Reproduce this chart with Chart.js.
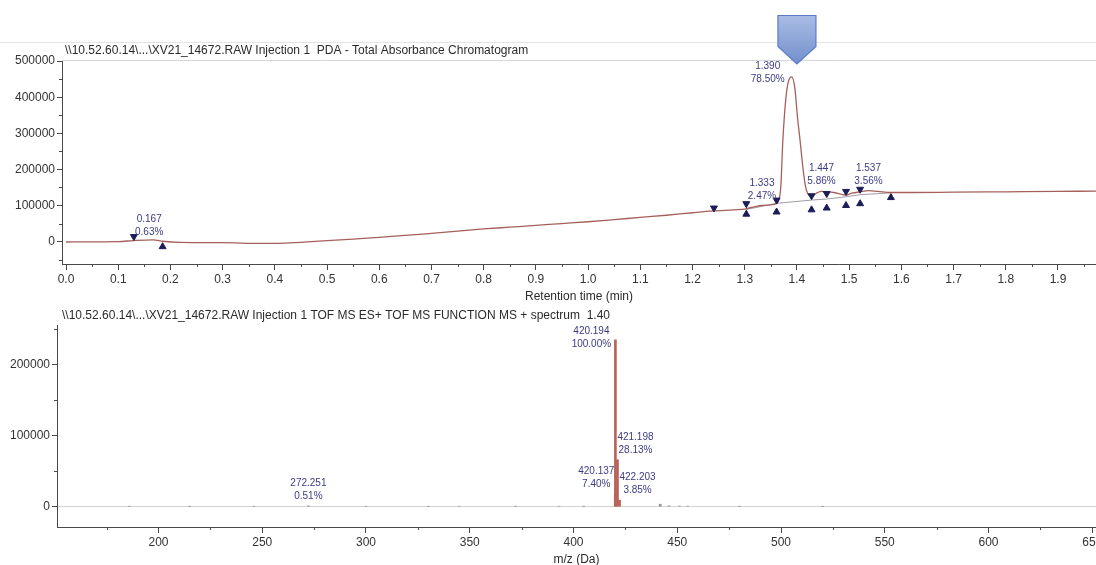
<!DOCTYPE html>
<html><head><meta charset="utf-8">
<script src="https://cdn.jsdelivr.net/npm/chart.js@4.4.0/dist/chart.umd.min.js"></script>
<style>
html,body{margin:0;padding:0;background:#fff;overflow:hidden;}
#wrap{position:relative;width:1096px;height:565px;overflow:hidden;background:#fff;}
.box{position:absolute;left:0;width:1120px;}
</style></head><body>
<div id="wrap">
  <div class="box" style="top:0;height:305px"><canvas id="c1" width="1120" height="305"></canvas></div>
  <div class="box" style="top:305px;height:260px"><canvas id="c2" width="1120" height="260"></canvas></div>
</div>
<script>
// ---------- DATA ----------
const chromTitle = "\\\\10.52.60.14\\...\\XV21_14672.RAW Injection 1  PDA - Total Absorbance Chromatogram";
const specTitle = "\\\\10.52.60.14\\...\\XV21_14672.RAW Injection 1 TOF MS ES+ TOF MS FUNCTION MS + spectrum  1.40";
const chromXTitle = "Retention time (min)";
const specXTitle = "m/z (Da)";

const rtTimes = [0.00,0.05,0.10,0.13,0.167,0.185,0.22,0.30,0.38,0.42,0.47,0.50,0.55,0.60,0.65,0.70,0.75,0.80,0.85,0.90,0.95,1.00,1.05,1.10,1.15,1.20,1.24,1.28,1.30,1.32,1.333,1.35,1.36,1.365,1.369,1.373,1.379,1.384,1.390,1.396,1.401,1.406,1.411,1.416,1.421,1.428,1.437,1.447,1.457,1.470,1.485,1.494,1.505,1.521,1.537,1.555,1.58,1.62,1.70,1.80,1.90,1.973];
const rtAbs   = [-1000,-500,0,3000,5000,1000,-2000,-3000,-5000,-4000,0,3000,7000,12000,17000,23000,29000,35000,40000,45000,50000,55000,61000,67000,73000,80000,85000,88000,90000,97000,100000,102000,105000,115000,150000,280000,400000,445000,456000,425000,345000,280000,210000,156000,132000,126000,134000,139000,138000,136000,131000,129000,134000,138000,141000,139000,136000,136000,137000,138000,139000,140000];

const baseRT  = [1.303,1.361,1.428,1.457,1.494,1.521,1.58];
const baseAbs = [89000,106000,115000,118000,124000,130000,135000];

const downRT  = [0.13,1.241,1.303,1.361,1.428,1.457,1.494,1.521];
const downAbs = [14000,93000,105000,115000,127000,133000,139000,145000];
const upRT    = [0.185,1.303,1.361,1.428,1.457,1.494,1.521,1.58];
const upAbs   = [-14000,76000,82000,88000,93000,100000,105000,122000];

const peakRT     = [0.167,1.333,1.390,1.447,1.537];
const peakHeight = [5000,100000,456000,139000,141000];
const peakArea   = ["0.63%","2.47%","78.50%","5.86%","3.56%"];

const chromXTicks = [0.0,0.1,0.2,0.3,0.4,0.5,0.6,0.7,0.8,0.9,1.0,1.1,1.2,1.3,1.4,1.5,1.6,1.7,1.8,1.9];
const chromYTicks = [0,100000,200000,300000,400000,500000];

const mzValues = [186,215,246,272.251,300,330,345,372,393,405,420.137,420.194,421.198,422.203,441.8,446,451,455,480,520];
const mzInt    = [500,400,500,1200,600,400,700,500,600,400,17400,235000,66100,9050,3500,1200,900,800,400,300];

const specLabelMz  = [420.194,421.198,420.137,422.203,272.251];
const specLabelPct = ["100.00%","28.13%","7.40%","3.85%","0.51%"];

const specXTicks = [200,250,300,350,400,450,500,550,600,650];
const specYTicks = [0,100000,200000];

const spectrumTime = 1.40;

// ---------- STYLE ----------
const AXIS = '#4a4a4a', TXT = '#333333', LBL = '#3b3b85', MARK = '#1c1c58';
const TRACE = '#a5605a', STICK = '#b8635a', NOISE = '#9a9090';
const FONT = 'Liberation Sans, Arial, sans-serif';
const chromLabelOff = [[-4,-21],[0,-22],[-24,-11],[0,-23],[0,-22]];
const specLabelOff  = [[-24,-9],[18,-23],[-19,-23],[18,-23],[0,-23]];

function pts(xs, ys){ return xs.map((x,i)=>({x:x, y:ys[i]})); }

function minorTicks(ctx, chart, xs, ys){
  const xa = chart.scales.x, ya = chart.scales.y, a = chart.chartArea;
  ctx.save(); ctx.strokeStyle = AXIS; ctx.lineWidth = 1;
  xs.forEach(v=>{ if(v<xa.min||v>xa.max) return; const p = Math.round(xa.getPixelForValue(v))+0.5;
    ctx.beginPath(); ctx.moveTo(p,a.bottom); ctx.lineTo(p,a.bottom+3); ctx.stroke(); });
  ys.forEach(v=>{ if(v<ya.min||v>ya.max) return; const p = Math.round(ya.getPixelForValue(v))+0.5;
    ctx.beginPath(); ctx.moveTo(a.left-3,p); ctx.lineTo(a.left,p); ctx.stroke(); });
  ctx.restore();
}

// ---------- CHART 1 ----------
const chromPlugin = {
  id:'chromDeco',
  afterDraw(chart){
    const ctx = chart.ctx, a = chart.chartArea, xs = chart.scales.x, ys = chart.scales.y;
    ctx.save();
    ctx.strokeStyle = '#e4e4e4'; ctx.lineWidth = 1;
    ctx.beginPath(); ctx.moveTo(0,42.5); ctx.lineTo(1120,42.5); ctx.stroke();
    ctx.strokeStyle = '#d6d6d6';
    ctx.beginPath(); ctx.moveTo(a.left,a.top+0.5); ctx.lineTo(a.right,a.top+0.5); ctx.stroke();
    ctx.fillStyle = '#2b2b2b'; ctx.font = '12px '+FONT; ctx.textBaseline='middle'; ctx.textAlign='left';
    ctx.fillText(chromTitle, 65, 51);
    ctx.textAlign='center';
    ctx.fillText(chromXTitle, (a.left+a.right)/2, 297);
    ctx.fillStyle = LBL; ctx.font = '10px '+FONT;
    peakRT.forEach((t,i)=>{
      const px = xs.getPixelForValue(t)+chromLabelOff[i][0];
      const py = ys.getPixelForValue(peakHeight[i])+chromLabelOff[i][1];
      ctx.fillText(t.toFixed(3), px, py);
      ctx.fillText(peakArea[i], px, py+13);
    });
    ctx.restore();
    minorTicks(ctx, chart, chromXTicks.map(v=>v+0.05), [-50000,50000,150000,250000,350000,450000]);
    const cx = xs.getPixelForValue(spectrumTime);
    ctx.save();
    const g = ctx.createLinearGradient(0,15,0,64);
    g.addColorStop(0,'#a9bce4'); g.addColorStop(1,'#7390cd');
    ctx.fillStyle = g; ctx.strokeStyle = '#5b7cc4'; ctx.lineWidth = 1.2;
    ctx.beginPath();
    ctx.moveTo(cx-19,15.5); ctx.lineTo(cx+19,15.5); ctx.lineTo(cx+19,46.5);
    ctx.lineTo(cx,64); ctx.lineTo(cx-19,46.5); ctx.closePath();
    ctx.fill(); ctx.stroke();
    ctx.restore();
  }
};

new Chart(document.getElementById('c1'), {
  type:'scatter',
  data:{ datasets:[
    {data:pts(rtTimes,rtAbs), showLine:true, borderColor:TRACE, borderWidth:1.3, pointRadius:0, cubicInterpolationMode:'monotone', order:2},
    {data:pts(baseRT,baseAbs), showLine:true, borderColor:'#a39aa6', borderWidth:1, pointRadius:0, order:3},
    {data:pts(downRT,downAbs), showLine:false, pointStyle:'triangle', rotation:180, pointRadius:4, backgroundColor:MARK, borderColor:MARK, borderWidth:1, order:1},
    {data:pts(upRT,upAbs), showLine:false, pointStyle:'triangle', pointRadius:4, backgroundColor:MARK, borderColor:MARK, borderWidth:1, order:1}
  ]},
  options:{
    responsive:false, animation:false, devicePixelRatio:1,
    layout:{padding:{top:60,right:24,left:0,bottom:0}},
    plugins:{legend:{display:false}, tooltip:{enabled:false}, title:{display:false}},
    scales:{
      x:{type:'linear', min:-0.0077, max:1.9728,
        afterBuildTicks:s=>{s.ticks = chromXTicks.map(v=>({value:v}));},
        afterFit:s=>{s.height=41;},
        grid:{drawOnChartArea:false, tickLength:6, color:AXIS},
        border:{color:AXIS},
        ticks:{color:TXT, font:{size:12,family:FONT}, padding:2, maxRotation:0, autoSkip:false, callback:v=>Number(v).toFixed(1)}},
      y:{type:'linear', min:-62000, max:503000,
        afterBuildTicks:s=>{s.ticks = chromYTicks.map(v=>({value:v}));},
        afterFit:s=>{s.width=62;},
        grid:{drawOnChartArea:false, tickLength:5, color:AXIS},
        border:{color:AXIS},
        ticks:{color:TXT, font:{size:12,family:FONT}, padding:2, autoSkip:false, callback:v=>String(v)}}
    }
  },
  plugins:[chromPlugin]
});

// ---------- CHART 2 ----------
const specPlugin = {
  id:'specDeco',
  afterDraw(chart){
    const ctx = chart.ctx, a = chart.chartArea, xs = chart.scales.x, ys = chart.scales.y;
    ctx.save();
    ctx.fillStyle = '#2b2b2b'; ctx.font = '12px '+FONT; ctx.textBaseline='middle'; ctx.textAlign='left';
    ctx.fillText(specTitle, 62, 11);
    ctx.textAlign='center';
    ctx.fillText(specXTitle, (a.left+a.right)/2, 255);
    ctx.fillStyle = LBL; ctx.font = '10px '+FONT;
    specLabelMz.forEach((m,i)=>{
      const h = mzInt[mzValues.indexOf(m)];
      const px = xs.getPixelForValue(m)+specLabelOff[i][0];
      const py = ys.getPixelForValue(h)+specLabelOff[i][1];
      ctx.fillText(m.toFixed(3), px, py);
      ctx.fillText(specLabelPct[i], px, py+13);
    });
    ctx.restore();
    minorTicks(ctx, chart, [175,225,275,325,375,425,475,525,575,625], [50000,150000,250000]);
  }
};

new Chart(document.getElementById('c2'), {
  type:'bar',
  data:{ datasets:[
    {data:pts(mzValues,mzInt), backgroundColor:c=>(c.raw && c.raw.y < 5000) ? NOISE : STICK, borderWidth:0, barThickness:2}
  ]},
  options:{
    responsive:false, animation:false, devicePixelRatio:1,
    layout:{padding:{top:20,right:24,left:0,bottom:0}},
    plugins:{legend:{display:false}, tooltip:{enabled:false}, title:{display:false}},
    scales:{
      x:{type:'linear', min:151.1, max:651.8, offset:false,
        afterBuildTicks:s=>{s.ticks = specXTicks.map(v=>({value:v}));},
        afterFit:s=>{s.height=38;},
        grid:{drawOnChartArea:false, tickLength:6, color:AXIS, offset:false},
        border:{color:AXIS},
        ticks:{color:TXT, font:{size:12,family:FONT}, padding:2, maxRotation:0, autoSkip:false, callback:v=>String(v)}},
      y:{type:'linear', min:-28600, max:255900,
        afterBuildTicks:s=>{s.ticks = specYTicks.map(v=>({value:v}));},
        afterFit:s=>{s.width=57;},
        grid:{drawOnChartArea:true, tickLength:5, color:c=>c.tick && c.tick.value===0 ? '#d4d4d4' : 'rgba(0,0,0,0)', tickColor:AXIS},
        border:{color:AXIS},
        ticks:{color:TXT, font:{size:12,family:FONT}, padding:2, autoSkip:false, callback:v=>String(v)}}
    }
  },
  plugins:[specPlugin]
});
</script>
</body></html>
